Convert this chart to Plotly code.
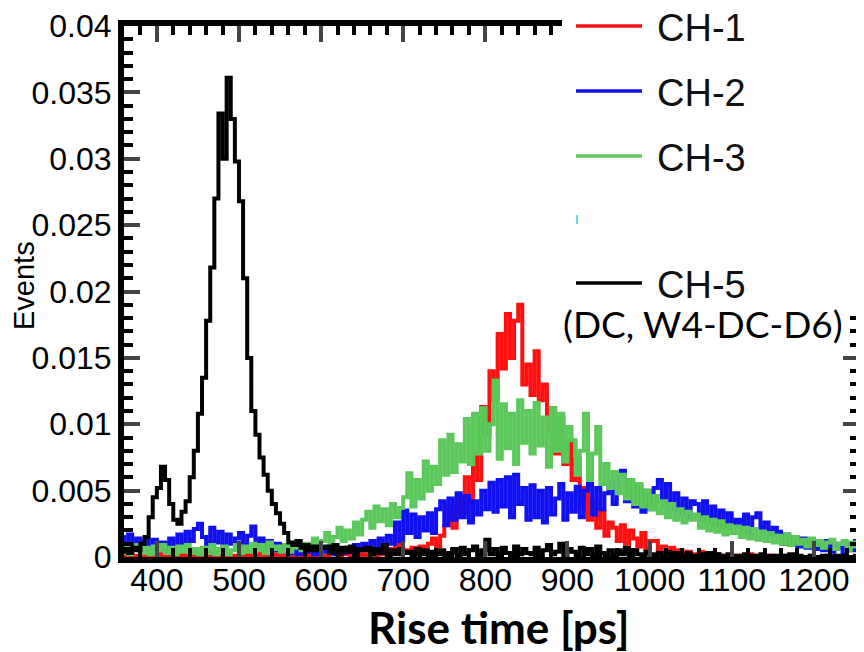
import plotly.graph_objects as go

# rise-time histograms, 5 ps bins (left edges), values in units of 1e-4
rise_time = list(range(355, 1260, 5))

ch1 = [1, 0, 2, 0, 1, 3, 0, 1, 0, 2,
       0, 1, 3, 1, 0, 2, 1, 0, 2, 1,
       2, 0, 1, 3, 0, 1, 2, 0, 1, 0,
       1, 2, 0, 1, 3, 1, 0, 2, 1, 0,
       2, 1, 0, 3, 1, 2, 0, 1, 2, 1,
       1, 3, 2, 0, 2, 4, 1, 3, 2, 1,
       2, 4, 1, 5, 2, 6, 3, 9, 4, 5,
       3, 7, 2, 8, 4, 10, 14, 8, 16, 24,
       38, 22, 44, 34, 60, 40, 78, 58, 113, 92,
       140, 118, 168, 142, 183, 150, 178, 190, 130, 145,
       122, 155, 118, 130, 96, 112, 78, 105, 70, 88,
       58, 74, 40, 52, 28, 42, 22, 34, 16, 26,
       22, 12, 24, 10, 20, 14, 8, 18, 6, 12,
       12, 5, 8, 3, 7, 2, 5, 1, 4, 2,
       2, 4, 1, 3, 0, 2, 1, 0, 1, 0,
       1, 0, 0, 2, 0, 1, 0, 0, 1, 0,
       0, 1, 0, 0, 1, 0, 0, 0, 1, 0,
       0, 0, 1, 0, 0, 0, 1, 0, 0, 0,
       0]

ch2 = [15, 9, 17, 8, 14, 6, 12, 7, 13, 5,
       11, 6, 14, 8, 17, 10, 19, 12, 21, 25,
       15, 9, 22, 11, 19, 8, 17, 10, 14, 18,
       9, 16, 23, 8, 14, 6, 12, 5, 10, 4,
       9, 3, 8, 2, 7, 4, 6, 2, 5, 7,
       4, 8, 2, 6, 3, 7, 4, 9, 5, 10,
       6, 12, 5, 14, 8, 16, 10, 26, 12, 35,
       18, 32, 15, 30, 20, 33, 18, 36, 42, 24,
       44, 28, 48, 30, 46, 26, 42, 32, 50, 36,
       56, 34, 58, 38, 60, 30, 62, 40, 52, 28,
       54, 30, 50, 26, 52, 32, 44, 55, 28, 48,
       34, 53, 30, 50, 56, 32, 52, 36, 48, 56,
       40, 60, 65, 42, 58, 38, 54, 34, 50, 36,
       52, 58, 40, 55, 36, 48, 32, 44, 30, 42,
       40, 28, 42, 26, 38, 24, 35, 22, 33, 25,
       28, 20, 32, 18, 30, 33, 22, 26, 17, 22,
       19, 10, 17, 9, 15, 8, 14, 7, 13, 6,
       11, 5, 12, 4, 10, 7, 3, 10, 5, 12,
       6]

ch3 = [3, 8, 2, 6, 9, 3, 7, 2, 8, 5,
       9, 3, 7, 2, 8, 4, 9, 3, 6, 2,
       7, 3, 9, 2, 6, 8, 2, 5, 9, 3,
       8, 4, 10, 5, 9, 3, 11, 6, 8, 4,
       9, 4, 7, 12, 5, 10, 6, 14, 8, 12,
       18, 9, 15, 22, 12, 20, 14, 26, 17, 28,
       34, 22, 38, 27, 36, 24, 40, 30, 37, 45,
       63, 38, 58, 44, 72, 50, 68, 55, 88, 62,
       92, 64, 85, 72, 104, 70, 108, 78, 112, 80,
       100, 133, 74, 115, 82, 108, 70, 118, 86, 110,
       78, 116, 84, 105, 68, 112, 80, 108, 72, 98,
       88, 62, 80, 108, 58, 78, 98, 55, 70, 52,
       64, 48, 62, 44, 58, 40, 55, 38, 50, 36,
       46, 33, 42, 30, 40, 28, 36, 26, 34, 28,
       32, 22, 30, 20, 28, 19, 27, 17, 24, 18,
       23, 15, 22, 14, 21, 13, 19, 12, 18, 11,
       16, 10, 17, 9, 15, 10, 13, 8, 14, 9,
       12, 7, 11, 13, 6, 10, 12, 5, 11, 8,
       10]

ch5 = [4, 6, 3, 7, 5, 10, 15, 30, 45, 52,
       68, 58, 40, 28, 25, 34, 42, 60, 80, 108,
       135, 178, 218, 270, 334, 300, 361, 330, 298, 268,
       210, 150, 110, 92, 75, 62, 50, 40, 33, 25,
       18, 11, 9, 12, 7, 9, 5, 8, 5, 7,
       8, 3, 9, 2, 7, 4, 8, 1, 6, 5,
       7, 2, 6, 3, 9, 1, 5, 2, 6, 3,
       4, 1, 6, 2, 5, 0, 4, 2, 5, 1,
       3, 6, 1, 7, 2, 5, 8, 1, 5, 13,
       2, 6, 1, 7, 3, 1, 8, 2, 6, 3,
       2, 7, 1, 5, 9, 2, 4, 10, 1, 6,
       4, 1, 7, 2, 6, 1, 8, 3, 1, 5,
       1, 5, 2, 7, 1, 5, 2, 1, 4, 2,
       1, 3, 0, 4, 1, 3, 1, 0, 3, 1,
       1, 2, 0, 3, 1, 2, 0, 1, 2, 1,
       0, 1, 2, 0, 1, 0, 2, 1, 0, 1,
       1, 0, 1, 2, 0, 1, 0, 0, 1, 0,
       0, 1, 0, 0, 1, 0, 1, 0, 0, 1,
       0]

y_ticks = [0, 0.005, 0.01, 0.015, 0.02, 0.025, 0.03, 0.035, 0.04]
y_labels = ['0', '0.005', '0.01', '0.015', '0.02', '0.025', '0.03', '0.035', '0.04']
x_ticks = [400, 500, 600, 700, 800, 900, 1000, 1100, 1200]

series = [
    ('CH-1', ch1, '#ff1010'),
    ('CH-2', ch2, '#1010f0'),
    ('CH-3', ch3, '#5cc85c'),
    ('CH-5', ch5, '#000000'),
]

# the page body has an 8px margin, so lay the figure out 8px smaller
OFF = 8
W, H = 864 - OFF, 652 - OFF
L, R, T, B = 124 - OFF, 5, 26 - OFF, 95
pw, ph = W - L - R, H - T - B


# screen pixel -> paper coords
def px(x):
    return (x - OFF - L) / pw


def py(y):
    return (H - B - (y - OFF)) / ph


fig = go.Figure()
for name, vals, col in series:
    fig.add_trace(go.Scatter(x=rise_time, y=[v * 1e-4 for v in vals], mode='lines',
                             line=dict(color=col, width=4, shape='hv'),
                             name=name, showlegend=False))

tickfont = dict(family='Liberation Sans, Arial', size=32, color='black')
fig.update_xaxes(range=[360, 1255], tickvals=x_ticks, ticks='inside', ticklen=16, tickwidth=4,
                 showline=True, linewidth=6, linecolor='black', mirror='allticks',
                 showgrid=False, zeroline=False, tickfont=tickfont, automargin=False,
                 ticklabelstandoff=-10,
                 minor=dict(dtick=20, tick0=0, ticks='inside', ticklen=9, tickwidth=4, tickcolor='black'))
fig.update_yaxes(range=[0, 0.04], tickvals=y_ticks, ticktext=y_labels, ticks='inside',
                 ticklen=16, tickwidth=4, showline=True, linewidth=6, linecolor='black',
                 mirror='allticks', showgrid=False, zeroline=False, tickfont=tickfont,
                 automargin=False,
                 minor=dict(dtick=0.001, tick0=0, ticks='inside', ticklen=9, tickwidth=4, tickcolor='black'))

# legend box drawn by hand (covers the frame in the top right corner)
shapes = [dict(type='rect', xref='paper', yref='paper', x0=px(562), x1=px(880), y0=py(311), y1=py(-10),
               fillcolor='white', line_width=0, layer='above')]
ann = []
for (name, vals, col), yy in zip(series, [26, 91, 156, 283]):
    shapes.append(dict(type='line', xref='paper', yref='paper', x0=px(576), x1=px(642),
                       y0=py(yy), y1=py(yy), line=dict(color=col, width=3.5), layer='above'))
    ann.append(dict(text=name, xref='paper', yref='paper', x=px(656), y=py(yy + 2),
                    xanchor='left', yanchor='middle', showarrow=False, borderpad=0,
                    font=dict(family='Liberation Sans, Arial', size=38, color='#111111')))
shapes.append(dict(type='line', xref='paper', yref='paper', x0=px(577), x1=px(577),
                   y0=py(215), y1=py(224), line=dict(color='#30d0e0', width=1.5), layer='above'))

ann.append(dict(text='(DC, W4-DC-D6)', xref='paper', yref='paper', x=px(562), y=py(323),
                xanchor='left', yanchor='middle', showarrow=False, borderpad=0,
                font=dict(family='Lato', size=37, color='black')))
ann.append(dict(text='Events', xref='paper', yref='paper', x=px(24), y=py(285),
                xanchor='center', yanchor='middle', textangle=-90, showarrow=False,
                font=dict(family='Liberation Sans, Arial', size=29, color='black')))
ann.append(dict(text='<b>Rise time [ps]</b>', xref='paper', yref='paper', x=px(499), y=py(627),
                xanchor='center', yanchor='middle', showarrow=False,
                font=dict(family='Lato', size=44, color='black')))

fig.update_layout(width=W, height=H, margin=dict(l=L, r=R, t=T, b=B, autoexpand=False),
                  paper_bgcolor='white', plot_bgcolor='white',
                  shapes=shapes, annotations=ann, showlegend=False)

fig.write_html("out.html")
